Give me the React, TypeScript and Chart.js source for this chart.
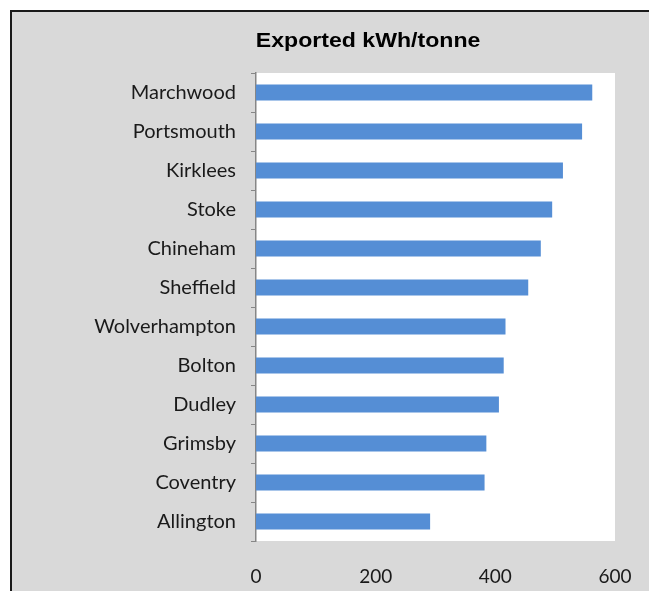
import React, { useEffect, useRef } from "react";
import { Chart, registerables } from "chart.js";

Chart.register(...registerables);

const TITLE = "Exported kWh/tonne";
const categories = [
  "Marchwood",
  "Portsmouth",
  "Kirklees",
  "Stoke",
  "Chineham",
  "Sheffield",
  "Wolverhampton",
  "Bolton",
  "Dudley",
  "Grimsby",
  "Coventry",
  "Allington",
];
const values = [562, 545, 513, 495, 476, 455, 417, 414, 406, 385, 382, 291];
const xTicks = [0, 200, 400, 600];

const FONT = "Lato, 'Open Sans', sans-serif";

const plotBg = {
  id: "plotBg",
  beforeDraw(chart: any) {
    const { ctx, chartArea } = chart;
    ctx.save();
    ctx.fillStyle = "#ffffff";
    ctx.fillRect(chartArea.left, chartArea.top, chartArea.right - chartArea.left, chartArea.bottom - chartArea.top);
    ctx.restore();
  },
};

const titlePlugin = {
  id: "customTitle",
  afterDraw(chart: any) {
    const { ctx } = chart;
    ctx.save();
    ctx.font = "bold 20px 'Liberation Sans', Arial, sans-serif";
    ctx.fillStyle = "#000000";
    ctx.textAlign = "center";
    ctx.textBaseline = "alphabetic";
    const cx = chart.width * 0.559;
    ctx.translate(cx, 35);
    ctx.scale(1.155, 1);
    ctx.fillText(TITLE, 0, 0);
    ctx.restore();
  },
};

export default function App() {
  const ref = useRef<HTMLCanvasElement | null>(null);

  useEffect(() => {
    if (!ref.current) return;
    const chart = new Chart(ref.current, {
      type: "bar",
      data: {
        labels: categories,
        datasets: [
          {
            data: values,
            backgroundColor: "#558ed5",
            borderWidth: 0,
            barPercentage: 0.41,
            categoryPercentage: 1,
          },
        ],
      },
      options: {
        indexAxis: "y",
        animation: false,
        responsive: false,
        maintainAspectRatio: false,
        layout: { padding: { top: 61, left: 0, right: 34, bottom: 0 } },
        plugins: {
          legend: { display: false },
          title: { display: false },
          tooltip: { enabled: false },
        },
        scales: {
          x: {
            min: 0,
            max: 600,
            afterBuildTicks(scale: any) {
              scale.ticks = xTicks.map((v) => ({ value: v }));
            },
            afterFit(scale: any) {
              scale.height = 50;
              scale.paddingLeft = 0;
              scale.paddingRight = 0;
            },
            grid: { display: false, drawTicks: false },
            border: { display: false },
            ticks: {
              padding: 24,
              color: "#1a1a1a",
              font: { family: FONT, size: 19 },
              maxRotation: 0,
            },
          },
          y: {
            afterFit(scale: any) {
              scale.width = 244;
              scale.paddingTop = 0;
              scale.paddingBottom = 0;
            },
            grid: {
              display: true,
              drawOnChartArea: false,
              drawTicks: true,
              tickLength: 5,
              offset: true,
              color: "#868686",
              lineWidth: 1,
            },
            border: { display: true, color: "#868686", width: 1.5 },
            ticks: {
              padding: 15,
              color: "#1a1a1a",
              font: { family: FONT, size: 20 },
            },
          },
        },
      },
      plugins: [plotBg, titlePlugin],
    });
    return () => chart.destroy();
  }, []);

  return (
    <div
      style={{
        position: "fixed",
        left: 10,
        top: 10,
        right: 0,
        bottom: 0,
        background: "#d9d9d9",
        borderLeft: "2px solid #1a1a1a",
        borderTop: "2px solid #1a1a1a",
        overflow: "hidden",
      }}
    >
      <canvas ref={ref} width={637} height={579} style={{ display: "block" }} />
    </div>
  );
}
